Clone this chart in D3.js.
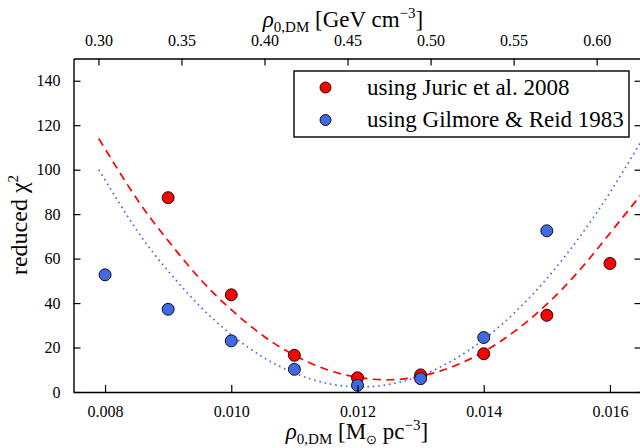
<!DOCTYPE html>
<html><head><meta charset="utf-8">
<script src="https://cdn.jsdelivr.net/npm/d3@7"></script>
<style>
html,body{margin:0;padding:0;background:#fff;}
svg text{font-family:"Liberation Serif","Times New Roman",serif;fill:#000;}
</style></head>
<body><svg id="chart" width="640" height="448"></svg>
<script>
// ---- data ----
const xPoints = [0.008, 0.009, 0.010, 0.011, 0.012, 0.013, 0.014, 0.015, 0.016];
const juricPoints = [null, 87.4, 43.7, 16.5, 6.4, 7.7, 17.2, 34.5, 57.8];
const gilmorePoints = [52.7, 37.2, 23.0, 10.2, 3.0, 6.0, 24.5, 72.5, null];

const curveX = [0.0079, 0.0085, 0.0090, 0.0095, 0.0100, 0.0105, 0.0110, 0.0115, 0.0120,
                0.0125, 0.0130, 0.0135, 0.0140, 0.0145, 0.0150, 0.0155, 0.0160, 0.0165];
const juricCurve = [114, 87, 68, 51, 37, 25.4, 16.5, 10.2, 6.6,
                    5.5, 7.1, 11.3, 18.1, 27.5, 39.5, 54.2, 71.4, 89];
const gilmoreCurve = [100, 72.9, 54.4, 38.7, 25.8, 15.7, 8.5, 4.0, 2.3,
                      3.4, 7.3, 14.1, 23.6, 36, 51, 69, 89.7, 113];

const xTicks = [0.008, 0.010, 0.012, 0.014, 0.016];
const yTicks = [0, 20, 40, 60, 80, 100, 120, 140];
const topTicks = [0.30, 0.35, 0.40, 0.45, 0.50, 0.55, 0.60];
const gevPerMsunPc3 = 38.0;
const legendLabels = ["using Juric et al. 2008", "using Gilmore & Reid 1983"];
const colors = ["#ff0000", "#4169e1"];

// ---- layout ----
const L = 73.5, R = 641.5, T = 58.5, B = 392;
const svg = d3.select("#chart");
const x = d3.scaleLinear().domain([0.0075, 0.0165]).range([L, R]);
const y = d3.scaleLinear().domain([0, 150]).range([B, T]);

svg.append("defs").append("clipPath").attr("id","clip")
  .append("rect").attr("x",L).attr("y",T).attr("width",R-L).attr("height",B-T);

// curves
const line = d3.line().x(d=>x(d[0])).y(d=>y(d[1])).curve(d3.curveNatural);
const g = svg.append("g").attr("clip-path","url(#clip)");
g.append("path").datum(curveX.map((v,i)=>[v, juricCurve[i]]))
  .attr("d", line).attr("fill","none").attr("stroke",colors[0])
  .attr("stroke-width",1.7).attr("stroke-dasharray","8,5.5");
g.append("path").datum(curveX.map((v,i)=>[v, gilmoreCurve[i]]))
  .attr("d", line).attr("fill","none").attr("stroke",colors[1])
  .attr("stroke-width",1.7).attr("stroke-dasharray","1.6,3.8");

// points
const pts = svg.append("g");
[juricPoints, gilmorePoints].forEach((arr, k) => {
  pts.selectAll(null).data(xPoints.map((v,i)=>[v, arr[i]]).filter(d=>d[1]!==null))
    .enter().append("circle")
    .attr("cx", d=>x(d[0])).attr("cy", d=>y(d[1])).attr("r", 6)
    .attr("fill", colors[k]).attr("stroke","#000").attr("stroke-width",0.9);
});

// axes (ticks inward)
const axB = svg.append("g").attr("transform",`translate(0,${B})`)
  .call(d3.axisBottom(x).tickValues(xTicks).tickFormat(d3.format(".3f")).tickSizeInner(-7).tickSizeOuter(0).tickPadding(14));
const axT = svg.append("g").attr("transform",`translate(0,${T})`)
  .call(d3.axisTop(x).tickValues(topTicks.map(v=>v/gevPerMsunPc3)).tickFormat((d,i)=>topTicks[i].toFixed(2)).tickSizeInner(-7).tickSizeOuter(0).tickPadding(13));
const axL = svg.append("g").attr("transform",`translate(${L},0)`)
  .call(d3.axisLeft(y).tickValues(yTicks).tickSizeInner(-7).tickSizeOuter(0).tickPadding(13));
const axR = svg.append("g").attr("transform",`translate(${R},0)`)
  .call(d3.axisRight(y).tickValues(yTicks).tickFormat("").tickSizeInner(-7).tickSizeOuter(0));
[axB, axT, axL, axR].forEach(a => {
  a.select(".domain").attr("stroke","#000").attr("stroke-width",1.4);
  a.selectAll(".tick line").attr("stroke","#000").attr("stroke-width",1.2);
  a.selectAll(".tick text").attr("font-size",16).attr("font-family","Liberation Serif");
});

// titles
const bt = svg.append("text").attr("x", 357).attr("y", 439).attr("text-anchor","middle").attr("font-size",23);
bt.append("tspan").text("ρ").attr("font-style","italic");
bt.append("tspan").text("0,DM").attr("font-size",15).attr("dy",5);
bt.append("tspan").text(" [M").attr("dy",-5);
bt.append("tspan").text("⊙").attr("font-size",13).attr("dy",5);
bt.append("tspan").text(" pc").attr("dy",-5);
bt.append("tspan").text("−3").attr("font-size",15).attr("dy",-9);
bt.append("tspan").text("]").attr("dy",9);

const tt = svg.append("text").attr("x", 343).attr("y", 27).attr("text-anchor","middle").attr("font-size",23);
tt.append("tspan").text("ρ").attr("font-style","italic");
tt.append("tspan").text("0,DM").attr("font-size",15).attr("dy",5);
tt.append("tspan").text(" [GeV cm").attr("dy",-5);
tt.append("tspan").text("−3").attr("font-size",15).attr("dy",-9);
tt.append("tspan").text("]").attr("dy",9);

const lt = svg.append("text").attr("transform","translate(27,225) rotate(-90)").attr("text-anchor","middle").attr("font-size",24);
lt.append("tspan").text("reduced χ");
lt.append("tspan").text("2").attr("font-size",15).attr("dy",-9);

// legend
const lg = svg.append("g");
lg.append("rect").attr("x",294).attr("y",71).attr("width",335).attr("height",66)
  .attr("fill","#fff").attr("stroke","#000").attr("stroke-width",1.4);
legendLabels.forEach((s,i) => {
  const cy = 87.5 + i*32.5;
  lg.append("circle").attr("cx",325.5).attr("cy",cy).attr("r",5.5)
    .attr("fill",colors[i]).attr("stroke","#000").attr("stroke-width",0.9);
  lg.append("text").attr("x",367).attr("y",cy+7).attr("font-size",23).text(s);
});
</script></body></html>
